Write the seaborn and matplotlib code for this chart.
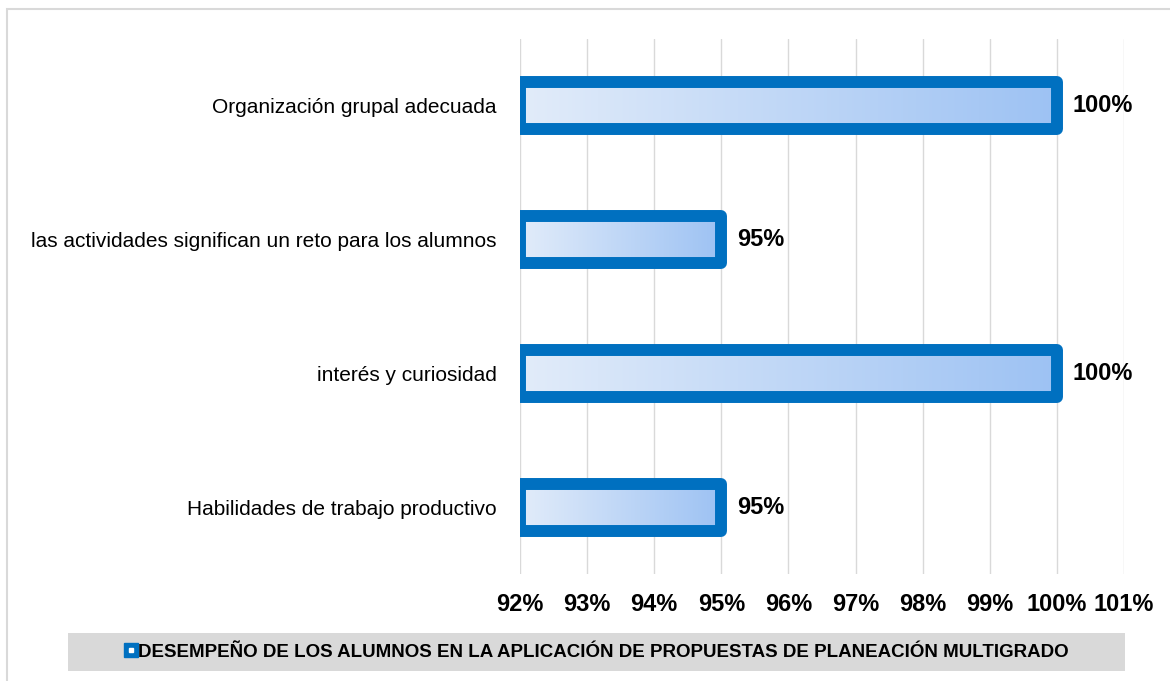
import matplotlib.pyplot as plt
import matplotlib.patches as mpatches
from matplotlib.lines import Line2D
from matplotlib.legend_handler import HandlerTuple
from matplotlib.colors import LinearSegmentedColormap
import numpy as np
import seaborn as sns
import pandas as pd

categorias = ['Organización grupal adecuada',
              'las actividades significan un reto para los alumnos',
              'interés y curiosidad',
              'Habilidades de trabajo productivo']
valores = [100, 95, 100, 95]
ticks = [92, 93, 94, 95, 96, 97, 98, 99, 100, 101]
serie = 'DESEMPEÑO DE LOS ALUMNOS EN LA APLICACIÓN DE PROPUESTAS DE PLANEACIÓN MULTIGRADO'

borde = '#0070C0'
grad = LinearSegmentedColormap.from_list('grad', ['#E2ECFA', '#9DC2F3'])

sns.set_style('white')
plt.rcParams['font.family'] = ['Liberation Sans', 'DejaVu Sans']
plt.rcParams['text.color'] = 'black'
plt.rcParams['xtick.color'] = 'black'
plt.rcParams['ytick.color'] = 'black'

df = pd.DataFrame({'Categoria': categorias, 'Valor': valores})

fig = plt.figure(figsize=(11.7, 6.81), dpi=100)
ax = fig.add_axes([520 / 1170, 1 - 574 / 681, 604 / 1170, 535 / 681])

sns.barplot(data=df, x='Valor', y='Categoria', orient='h', ax=ax,
            width=0.35, facecolor='none', edgecolor=borde, linewidth=8.6,
            zorder=3)

xmin = ticks[0]
for p in ax.patches:
    # las barras arrancan en el minimo del eje, como en Excel
    fin = p.get_x() + p.get_width()
    p.set_x(xmin)
    p.set_width(fin - xmin)
    p.set_joinstyle('round')
    y0, h = p.get_y(), p.get_height()
    im = ax.imshow(np.linspace(0, 1, 256).reshape(1, -1), cmap=grad,
                   extent=[xmin, fin, y0 + h, y0], aspect='auto', zorder=2)
    im.set_clip_path(p)

ax.set_xlim(92, 101)
ax.set_ylim(3.5, -0.5)
ax.set_xticks(ticks)
ax.set_xticklabels([f'{t}%' for t in ticks], fontsize=17, fontweight='bold')
ax.tick_params(axis='x', length=0, pad=14)
ax.tick_params(axis='y', length=0, pad=17, labelsize=15)
ax.set_xlabel('')
ax.set_ylabel('')
ax.grid(axis='x', color='#D9D9D9', linewidth=1)
ax.set_axisbelow(True)
sns.despine(ax=ax, left=True, bottom=True)

for i, v in enumerate(valores):
    ax.text(v + 0.24, i, f'{v}%', va='center', ha='left', fontsize=17,
            fontweight='bold', zorder=4)

# cuadro gris de la leyenda
fig.patches.append(mpatches.Rectangle((68 / 1170, 1 - 671 / 681), 1057 / 1170, 38 / 681,
                                      transform=fig.transFigure, facecolor='#D9D9D9',
                                      edgecolor='none', zorder=0))
cuadro = Line2D([], [], marker='s', linestyle='none', markersize=10,
                markerfacecolor=borde, markeredgecolor=borde)
punto = Line2D([], [], marker='s', linestyle='none', markersize=2.5,
               markerfacecolor='white', markeredgecolor='white')
leg = fig.legend([(cuadro, punto)], [serie], loc='center',
                 bbox_to_anchor=(597 / 1170, 1 - 652 / 681),
                 handler_map={tuple: HandlerTuple(ndivide=1, pad=0)},
                 frameon=False, handlelength=0.6, handletextpad=0.1,
                 prop={'weight': 'bold', 'size': 13.5})

# borde exterior
fig.patches.append(mpatches.Rectangle((7 / 1170, -0.1), 1.2, 1 - 9 / 681 + 0.1,
                                      transform=fig.transFigure, facecolor='none',
                                      edgecolor='#D9D9D9', linewidth=1.5))

plt.savefig('out.png', dpi=100)
